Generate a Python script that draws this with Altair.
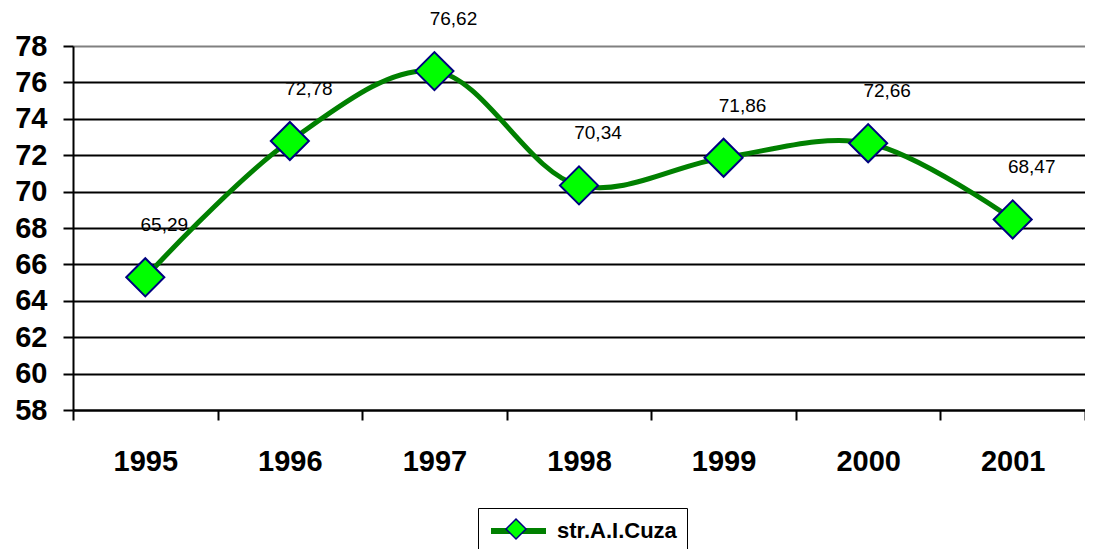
import altair as alt
import pandas as pd

years = ["1995", "1996", "1997", "1998", "1999", "2000", "2001"]
values = [65.29, 72.78, 76.62, 70.34, 71.86, 72.66, 68.47]
labels = ["65,29", "72,78", "76,62", "70,34", "71,86", "72,66", "68,47"]
series_name = "str.A.I.Cuza"
y_ticks = list(range(58, 80, 2))

df = pd.DataFrame({
    "year": years,
    "value": values,
    "label": labels,
    "series": [series_name] * len(years),
    "marker": [series_name] * len(years),
})

FONT = "Liberation Sans"

x_enc = alt.X(
    "year:O",
    scale=alt.Scale(paddingInner=0, paddingOuter=0),
    axis=alt.Axis(
        title=None, labelAngle=0, labelFontSize=29, labelFontWeight="bold",
        labelFont=FONT, labelColor="black", tickBand="extent", tickSize=10,
        tickColor="black", tickWidth=2, domainColor="black", domainWidth=2,
        labelPadding=27, grid=False,
    ),
)
y_enc = alt.Y(
    "value:Q",
    scale=alt.Scale(domain=[58, 78], nice=False, zero=False),
    axis=alt.Axis(
        title=None, values=y_ticks, labelFontSize=29, labelFontWeight="bold",
        labelFont=FONT, labelColor="black", tickSize=10, tickColor="black",
        tickWidth=2, domainColor="black", domainWidth=2, labelPadding=16,
        grid=True,
        gridColor=alt.condition("datum.value == 78", alt.value("#808080"), alt.value("black")),
        gridWidth=2, gridOpacity=1,
    ),
)

base = alt.Chart(df)

line = base.mark_line(interpolate="catmull-rom", strokeWidth=5).encode(
    x=x_enc, y=y_enc,
    stroke=alt.Stroke(
        "series:N", scale=alt.Scale(range=["#008000"]),
        legend=alt.Legend(
            title=None, orient="none", legendX=405, legendY=462,
            symbolType="M-1,0H4.5", symbolSize=400, symbolStrokeWidth=6,
            labelFontSize=22, labelFontWeight="bold", labelFont=FONT,
            labelColor="black", labelOffset=43, strokeColor="black",
            padding=10, fillColor="white",
        ),
    ),
)

points = base.mark_point(
    shape="diamond", filled=True, size=1450, stroke="#000080",
    strokeWidth=2, opacity=1,
).encode(
    x=x_enc, y=y_enc,
    fill=alt.Fill(
        "marker:N", scale=alt.Scale(range=["#00FF00"]),
        legend=alt.Legend(
            title=None, orient="none", legendX=422, legendY=462,
            symbolType="diamond", symbolSize=400, symbolStrokeColor="#000080",
            symbolStrokeWidth=1.5, symbolOpacity=1, labelExpr="''",
            labelFontSize=22, padding=10,
        ),
    ),
)

text = base.mark_text(
    dx=19, dy=-52, fontSize=19, font=FONT, color="black", baseline="middle",
).encode(x=x_enc, y=y_enc, text="label:N")

chart = alt.layer(line, points, text).properties(
    width=1012, height=364,
    padding={"left": 65, "top": 38, "right": 0, "bottom": 139},
    autosize=alt.AutoSizeParams(type="none"),
).configure_view(stroke=None)

chart.save("out.html", embed_options={"renderer": "svg", "actions": False})
